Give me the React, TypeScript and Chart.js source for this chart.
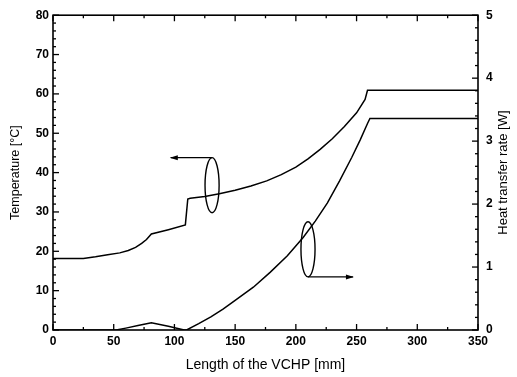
import React, { useEffect, useRef } from "react";
import { Chart, registerables } from "chart.js";

Chart.register(...registerables);

// Temperature curve (left axis, °C) vs length (mm)
const tempLength = [0, 25, 35, 45, 55, 62, 68, 73, 77, 81, 95, 109, 111, 113, 125, 137, 150, 163, 176, 188, 200, 210, 220, 230, 240, 250, 257, 259, 350];
const tempValues = [18.2, 18.2, 18.6, 19.1, 19.6, 20.2, 21.0, 22.0, 23.0, 24.4, 25.5, 26.7, 33.3, 33.5, 33.9, 34.6, 35.5, 36.6, 37.9, 39.5, 41.4, 43.5, 45.9, 48.6, 51.7, 55.2, 58.6, 60.9, 60.9];

// Heat transfer rate curve (right axis, W) vs length (mm)
const heatLength = [0, 52, 60, 70, 81, 95, 108, 110, 120, 130, 140, 150, 165, 179, 193, 206, 216, 226, 236, 246, 253, 259, 261, 350];
const heatValues = [0, 0, 0.03, 0.07, 0.115, 0.06, 0, 0, 0.1, 0.21, 0.33, 0.47, 0.68, 0.92, 1.18, 1.47, 1.73, 2.02, 2.37, 2.74, 3.02, 3.28, 3.36, 3.36];

// Axis ranges / tick labels
const xTicks = [0, 50, 100, 150, 200, 250, 300, 350];
const tempTicks = [0, 10, 20, 30, 40, 50, 60, 70, 80];
const heatTicks = [0, 1, 2, 3, 4, 5];

const xTitle = "Length of the VCHP [mm]";
const leftTitle = "Temperature [°C]";
const rightTitle = "Heat transfer rate [W]";

// Annotation markers (ellipse + arrow) in data units
const upperMarker = { cx: 131, cy: 36.8, rx: 5.8, ry: 7, arrowTo: 97 };
const lowerMarker = { cx: 210, cy: 20.5, rx: 5.8, ry: 7, arrowTo: 247 };

const FONT = "'Liberation Sans', Arial, Helvetica, sans-serif";

const framePlugin = {
  id: "framePlugin",
  afterDraw(chart: any) {
    const { ctx, chartArea } = chart;
    const { left, right, top, bottom } = chartArea;
    const x = chart.scales.x;
    const y = chart.scales.y;
    ctx.save();
    ctx.strokeStyle = "#000";
    ctx.fillStyle = "#000";
    ctx.lineWidth = 1.6;
    ctx.strokeRect(left, top, right - left, bottom - top);
    ctx.lineWidth = 1.3;
    for (let v = 0; v <= 350; v += 25) {
      const px = x.getPixelForValue(v);
      const len = v % 50 === 0 ? 6 : 3;
      ctx.beginPath();
      ctx.moveTo(px, bottom);
      ctx.lineTo(px, bottom - len);
      ctx.moveTo(px, top);
      ctx.lineTo(px, top + len);
      ctx.stroke();
    }
    for (let v = 0; v <= 80; v += 2) {
      const py = y.getPixelForValue(v);
      const len = v % 10 === 0 ? 6 : 3;
      ctx.beginPath();
      ctx.moveTo(left, py);
      ctx.lineTo(left + len, py);
      ctx.stroke();
    }
    const y1 = chart.scales.y1;
    for (let i = 0; i <= 25; i++) {
      const py = y1.getPixelForValue(i * 0.2);
      const len = i % 5 === 0 ? 6 : 3;
      ctx.beginPath();
      ctx.moveTo(right, py);
      ctx.lineTo(right - len, py);
      ctx.stroke();
    }

    const drawMarker = (m: any, dir: number) => {
      const cx = x.getPixelForValue(m.cx);
      const cy = y.getPixelForValue(m.cy);
      const rx = x.getPixelForValue(m.cx + m.rx) - cx;
      const ry = cy - y.getPixelForValue(m.cy + m.ry);
      ctx.lineWidth = 1.4;
      ctx.beginPath();
      ctx.ellipse(cx, cy, rx, ry, 0, 0, Math.PI * 2);
      ctx.stroke();
      const ay = dir < 0 ? cy - ry : cy + ry;
      const ax = x.getPixelForValue(m.arrowTo);
      ctx.beginPath();
      ctx.moveTo(cx, ay);
      ctx.lineTo(ax, ay);
      ctx.stroke();
      const s = Math.sign(ax - cx);
      ctx.beginPath();
      ctx.moveTo(ax + s * 1, ay);
      ctx.lineTo(ax - s * 7, ay - 2.5);
      ctx.lineTo(ax - s * 7, ay + 2.5);
      ctx.closePath();
      ctx.fill();
    };
    drawMarker(upperMarker, -1);
    drawMarker(lowerMarker, 1);

    ctx.textAlign = "center";
    ctx.textBaseline = "middle";
    const midY = (top + bottom) / 2;
    ctx.font = `14px ${FONT}`;
    ctx.fillText(xTitle, (left + right) / 2, 365);
    ctx.font = `12.5px ${FONT}`;
    ctx.save();
    ctx.translate(16, midY);
    ctx.rotate(-Math.PI / 2);
    ctx.fillText(leftTitle, 0, 0);
    ctx.restore();
    ctx.font = `13px ${FONT}`;
    ctx.save();
    ctx.translate(503, midY);
    ctx.rotate(-Math.PI / 2);
    ctx.fillText(rightTitle, 0, 0);
    ctx.restore();
    ctx.restore();
  },
};

export default function App() {
  const ref = useRef<HTMLCanvasElement | null>(null);
  useEffect(() => {
    document.body.style.margin = "0";
    const tickFont = { family: FONT, size: 12, weight: "bold" as const };
    const chart = new Chart(ref.current as HTMLCanvasElement, {
      type: "line",
      data: {
        datasets: [
          {
            label: "Temperature",
            data: tempLength.map((v, i) => ({ x: v, y: tempValues[i] })),
            borderColor: "#000",
            borderWidth: 1.5,
            pointRadius: 0,
            tension: 0,
            yAxisID: "y",
          },
          {
            label: "Heat transfer rate",
            data: heatLength.map((v, i) => ({ x: v, y: heatValues[i] })),
            borderColor: "#000",
            borderWidth: 1.5,
            pointRadius: 0,
            tension: 0,
            yAxisID: "y1",
          },
        ],
      },
      options: {
        animation: false,
        responsive: false,
        maintainAspectRatio: false,
        layout: { padding: { top: 12, left: 0, right: 0, bottom: 0 } },
        plugins: { legend: { display: false }, tooltip: { enabled: false } },
        scales: {
          x: {
            type: "linear",
            min: 0,
            max: 350,
            afterBuildTicks: (s: any) => {
              s.ticks = xTicks.map((v) => ({ value: v }));
            },
            ticks: { font: tickFont, color: "#000", padding: 4, maxRotation: 0 },
            grid: { display: false, drawTicks: false },
            border: { display: false },
            afterFit: (s: any) => {
              s.height = 47;
            },
          },
          y: {
            type: "linear",
            position: "left",
            min: 0,
            max: 80,
            afterBuildTicks: (s: any) => {
              s.ticks = tempTicks.map((v) => ({ value: v }));
            },
            ticks: { font: tickFont, color: "#000", padding: 4 },
            grid: { display: false, drawTicks: false },
            border: { display: false },
            afterFit: (s: any) => {
              s.width = 53;
            },
          },
          y1: {
            type: "linear",
            position: "right",
            min: 0,
            max: 5,
            afterBuildTicks: (s: any) => {
              s.ticks = heatTicks.map((v) => ({ value: v }));
            },
            ticks: { font: tickFont, color: "#000", padding: 8 },
            grid: { display: false, drawTicks: false },
            border: { display: false },
            afterFit: (s: any) => {
              s.width = 39;
            },
          },
        },
      },
      plugins: [framePlugin],
    });
    return () => chart.destroy();
  }, []);
  return (
    <div style={{ width: 517, height: 377, background: "#fff" }}>
      <canvas ref={ref} width={517} height={377} style={{ display: "block", width: 517, height: 377 }} />
    </div>
  );
}
